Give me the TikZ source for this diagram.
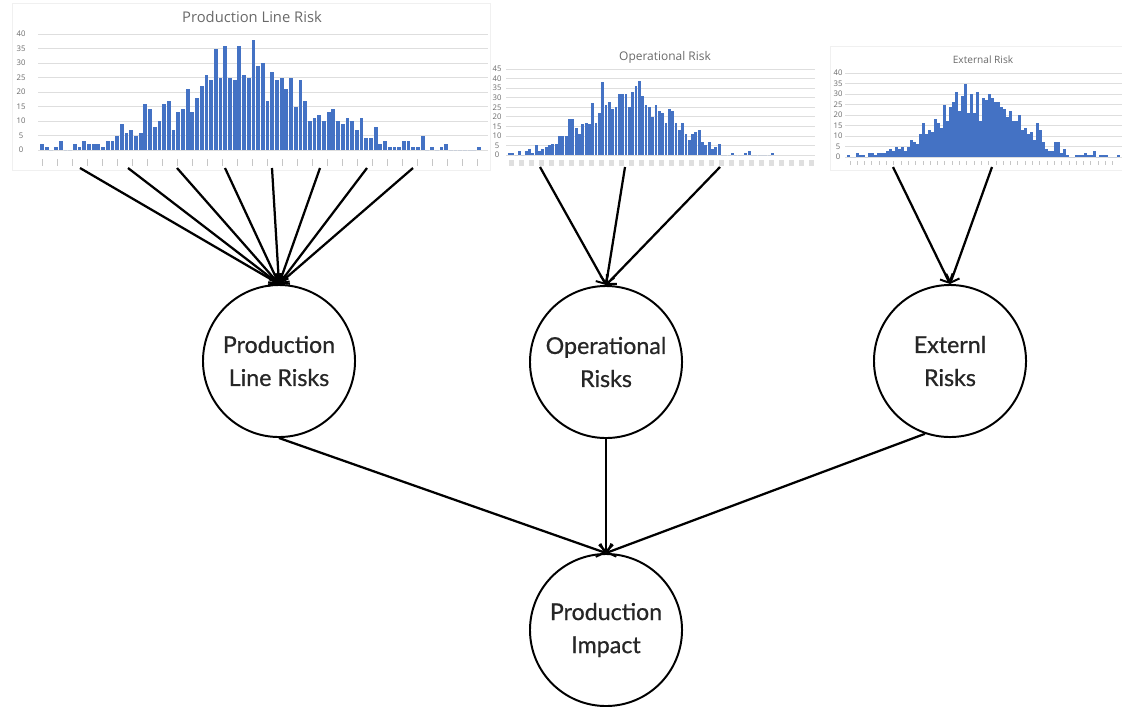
\documentclass[tikz,border=0pt]{standalone}
\usepackage{fontspec}
\setmainfont{Lato}
\newfontfamily\riskfont[FakeBold=0.7]{Lato}
\newfontfamily\chartfont{Open Sans}
\usetikzlibrary{arrows.meta}

\definecolor{barblue}{RGB}{68,114,196}
\definecolor{gridgray}{RGB}{222,222,222}
\definecolor{labelgray}{RGB}{105,105,105}

\tikzset{
  risk/.style={circle, draw, line width=1.4pt, minimum size=3.8cm, align=center,
    text=black!85, font=\riskfont\fontsize{16.5}{23.5}\selectfont},
  link/.style={line width=1.6pt, -{Straight Barb[length=5pt,width=10pt,line width=1.4pt]}},
  grid line/.style={gridgray, line width=0.5pt},
  axis label/.style={labelgray, inner sep=0pt, font=\chartfont\fontsize{5.5}{6}\selectfont},
  chart title/.style={labelgray, inner sep=0pt},
  tick mark/.style={gray!45, line width=0.6pt}
}

\begin{document}
\begin{tikzpicture}[x=0.025cm, y=-0.025cm]
  \useasboundingbox (0,0) rectangle (1122,706);

  % production line histogram
  \draw[gray!12] (12,3) rectangle (490,170);
  \node[chart title, font=\chartfont\fontsize{10.5}{12}\selectfont] (pltitle) at (252,17) {Production Line Risk};
  \foreach \y in {0,5,...,40} {
    \draw[grid line] (38,150-\y*2.9) -- (488,150-\y*2.9);
    \node[axis label] at (21,150-\y*2.9) {\y};
  }
  \foreach \v [count=\i from 0] in {2,1,0,1,3,0,0,2,1,3,2,2,2,1,3,3,5,9,6,7,5,6,16,14,8,10,16,17,7,13,
      14,21,13,18,22,26,24,35,25,36,25,24,36,26,25,38,29,30,17,27,24,25,21,25,15,24,17,10,11,12,
      10,13,14,10,9,11,10,7,11,4,4,8,2,3,1,1,1,3,3,1,1,5,0,1,0,1,2,0,0,0,0,0,0,1}
    \fill[barblue] (40+\i*4.7,150) rectangle ++(3.8,-\v*2.9);
  \foreach \i in {0,...,29}
    \draw[tick mark] (42+\i*15,159) -- ++(0,7);

  % operational histogram
  \node[chart title, font=\chartfont\fontsize{8.5}{10}\selectfont] (optitle) at (665,57) {Operational Risk};
  \foreach \y in {0,5,...,45} {
    \draw[grid line] (506,155-\y*1.91) -- (815,155-\y*1.91);
    \node[axis label] at (497,155-\y*1.91) {\y};
  }
  \foreach \v [count=\i from 0] in {1,1,0,2,0,2,3,1,5,2,3,4,5,6,6,10,10,10,19,19,14,11,16,17,16,27,17,22,38,26,
      28,24,25,32,32,32,25,33,36,39,31,26,25,20,26,23,22,17,24,23,17,13,17,11,8,11,12,13,7,5,
      7,3,4,6,0,0,0,1,0,0,0,1,2,0,0,0,0,0,0,1}
    \fill[barblue] (508+\i*3.33,155) rectangle ++(2.9,-\v*1.91);
  \foreach \i in {0,...,30}
    \fill[gray!25] (509+\i*10,160) rectangle ++(5,6);

  % external histogram
  \draw[gray!12] (830,46) rectangle (1122,170);
  \node[chart title, font=\chartfont\fontsize{7.2}{9}\selectfont] (extitle) at (983,60) {External Risk};
  \foreach \y in {0,5,...,40} {
    \draw[grid line] (845,157-\y*2.1) -- (1122,157-\y*2.1);
    \node[axis label] at (838,157-\y*2.1) {\y};
  }
  \foreach \v [count=\i from 0] in {1,0,0,2,1,1,0,2,2,1,2,2,2,3,4,3,5,4,5,3,5,8,7,6,11,16,11,13,12,18,
      16,14,25,17,24,26,31,22,29,35,21,30,21,31,17,28,27,30,28,26,26,24,23,19,22,17,17,20,13,14,
      11,12,8,16,13,7,4,3,3,7,7,2,4,1,0,0,1,1,1,2,1,1,3,0,1,1,1,0,0,0,1}
    \fill[barblue] (847+\i*3,157) rectangle ++(2.7,-\v*2.1);
  \foreach \i in {0,...,36}
    \draw[tick mark] (850+\i*7.3,161) -- ++(0,4);

  % risk nodes
  \node[risk] (plr) at (279,361) {Production\\Line Risks};
  \node[risk] (opr) at (606,362) {Operational\\Risks};
  \node[risk] (exr) at (950,361) {Externl\\Risks};
  \node[risk] (impact) at (606,630) {Production\\Impact};

  % arrow sources under the charts
  \foreach \x [count=\i] in {80,128,177,225,272,320,367,413}
    \coordinate (pl\i) at (\x,168);
  \foreach \x [count=\i] in {540,625,720}
    \coordinate (op\i) at (\x,167);
  \foreach \x [count=\i] in {893,992}
    \coordinate (ex\i) at (\x,167);

  \foreach \i in {1,...,8}
    \draw[link] (pl\i) -- (plr.north);
  \foreach \i in {1,...,3}
    \draw[link] (op\i) -- (opr.north);
  \foreach \i in {1,2}
    \draw[link] (ex\i) -- (exr.north);

  % into the impact
  \draw[link] (plr.south) -- (impact.north);
  \draw[link] (opr.south) -- (impact.north);
  \draw[link] (exr.251) -- (impact.north);
\end{tikzpicture}
\end{document}
